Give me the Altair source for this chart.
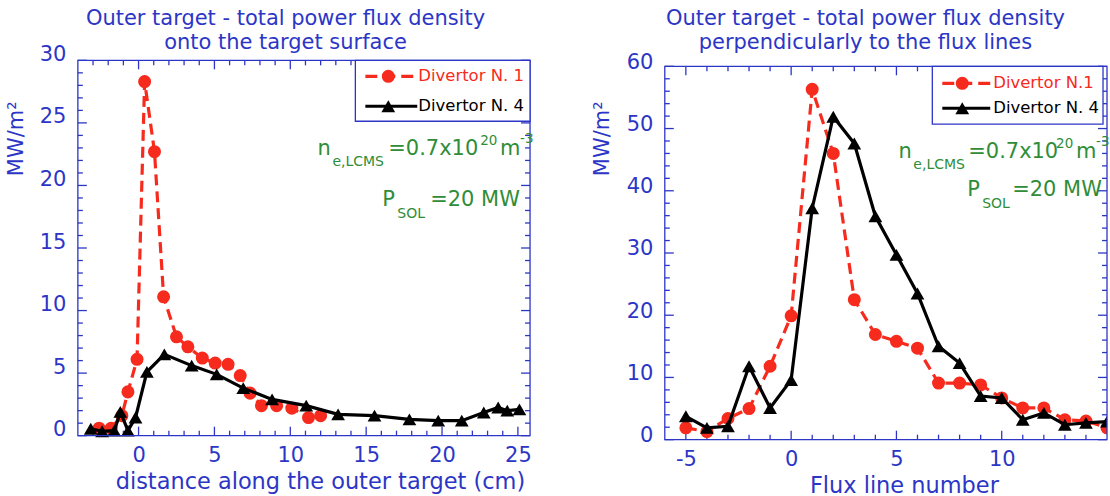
import altair as alt
import pandas as pd

# Outer target, total power flux density onto the target surface (MW/m^2)
surf_dist_n1 = [-2.6, -1.8, -1.1, -0.7, -0.1, 0.4, 1.05, 1.65, 2.5, 3.25,
                4.2, 5.05, 5.9, 6.7, 7.35, 8.1, 9.1, 10.1, 11.2, 12.0]
surf_flux_n1 = [0.6, 0.6, 1.6, 3.5, 6.1, 28.3, 22.7, 11.1, 7.9, 7.1,
                6.2, 5.8, 5.7, 4.8, 3.4, 2.4, 2.4, 2.2, 1.45, 1.6]
surf_dist_n4 = [-3.15, -2.4, -1.6, -1.2, -0.7, -0.2, 0.55, 1.7, 3.5, 5.15,
                6.9, 8.8, 11.05, 13.15, 15.55, 17.85, 19.75, 21.3, 22.75, 23.7,
                24.3, 25.1]
surf_flux_n4 = [0.55, 0.35, 0.4, 1.9, 0.4, 1.45, 5.1, 6.5, 5.6, 4.9,
                3.8, 2.9, 2.4, 1.7, 1.6, 1.3, 1.2, 1.2, 1.85, 2.25,
                2.0, 2.1]

# Outer target, total power flux density perpendicular to the flux lines (MW/m^2)
flux_line = list(range(-5, 16))
perp_flux_n1 = [1.9, 1.3, 3.4, 5.0, 11.8, 19.9, 56.3, 46.0, 22.5, 16.9, 15.8,
                14.7, 9.1, 9.1, 8.8, 6.7, 5.1, 5.1, 3.2, 3.0, 1.9]
perp_flux_n4 = [3.75, 1.9, 2.15, 11.8, 5.1, 9.6, 37.2, 51.9, 47.6, 35.9, 29.7,
                23.5, 15.0, 12.3, 7.0, 6.7, 3.2, 4.3, 2.4, 2.7, 2.9]

# Axis tick values
surf_x_major = [0, 5, 10, 15, 20, 25]
surf_x_minor = [v for v in range(-3, 26) if v % 5 != 0]
surf_y_major = [0, 5, 10, 15, 20, 25, 30]
surf_y_minor = [v for v in range(1, 30) if v % 5 != 0]
perp_x_major = [-5, 0, 5, 10]
perp_x_minor = [v for v in range(-5, 15) if v % 5 != 0]
perp_y_major = [0, 10, 20, 30, 40, 50, 60]
perp_y_minor = [v for v in range(2, 60, 2) if v % 10 != 0]

BLUE = "#2c36c6"
RED = "#f72b1d"
BLACK = "#000000"
GREEN = "#2f8d38"
FONT = "DejaVu Sans"
ONE = pd.DataFrame({"b": [0]})


def x_axis(values):
    return alt.Axis(values=values, ticks=False, domain=False, grid=False,
                    labelFont=FONT, labelFontSize=21, labelColor=BLUE,
                    labelPadding=9, labelFlush=False, title=None,
                    labelExpr="'' + datum.value")


def y_axis(values, offset):
    return alt.Axis(values=values, ticks=False, domain=False, grid=False,
                    labelFont=FONT, labelFontSize=21, labelColor=BLUE,
                    labelPadding=12, labelFlush=False, title=None,
                    labelBaseline="alphabetic", labelOffset=offset,
                    labelExpr="'' + datum.value")


def series(xs, ys, sc, color, shape, size, dash, clip):
    df = pd.DataFrame({"x": xs, "y": ys})
    xenc = alt.X("x:Q", scale=sc["xs"], axis=sc["xa"])
    yenc = alt.Y("y:Q", scale=sc["ys"], axis=sc["ya"])
    kw = dict(color=color, strokeWidth=3.2, clip=clip)
    if dash:
        kw["strokeDash"] = dash
    line = alt.Chart(df).mark_line(**kw).encode(x=xenc, y=yenc)
    pts = alt.Chart(df).mark_point(shape=shape, filled=True, size=size,
                                   color=color, opacity=1,
                                   clip=clip).encode(x=xenc, y=yenc)
    return [line, pts]


def ticks(values, channel, sc, W, top, bottom, length):
    df = pd.DataFrame({"v": values})
    base = alt.Chart(df).mark_rule(color=BLUE, strokeWidth=1.3)
    if channel == "x":
        enc = alt.X("v:Q", scale=sc["xs"], axis=sc["xa"])
        return [base.encode(x=enc, y=alt.value(bottom),
                            y2=alt.value(bottom - length)),
                base.encode(x=enc, y=alt.value(top),
                            y2=alt.value(top + length))]
    enc = alt.Y("v:Q", scale=sc["ys"], axis=sc["ya"])
    return [base.encode(y=enc, x=alt.value(0), x2=alt.value(length)),
            base.encode(y=enc, x=alt.value(W), x2=alt.value(W - length))]


def frame(W, top, bottom):
    return alt.Chart(ONE).mark_rect(
        fill="white", fillOpacity=0, stroke=BLUE, strokeWidth=1.3).encode(
        x=alt.value(0), x2=alt.value(W), y=alt.value(top),
        y2=alt.value(bottom))


def text(s, x, y, size, color, align="left", baseline="alphabetic", angle=0):
    return alt.Chart(pd.DataFrame({"t": [s]})).mark_text(
        align=align, baseline=baseline, fontSize=size, color=color,
        font=FONT, angle=angle).encode(x=alt.value(x), y=alt.value(y),
                                       text="t:N")


def legend(x1, x2, y1, y2, row1, row2, lx1, lx2, mx, tx, label1, label2):
    box = alt.Chart(ONE).mark_rect(
        fill="white", stroke=BLUE, strokeWidth=1.3).encode(
        x=alt.value(x1), x2=alt.value(x2), y=alt.value(y1), y2=alt.value(y2))
    red_line = alt.Chart(ONE).mark_rule(color=RED, strokeWidth=3.2,
                                        strokeDash=[12, 6]).encode(
        x=alt.value(lx1), x2=alt.value(lx2), y=alt.value(row1))
    red_pt = alt.Chart(ONE).mark_point(shape="circle", filled=True, size=170,
                                       color=RED, opacity=1).encode(
        x=alt.value(mx), y=alt.value(row1))
    blk_line = alt.Chart(ONE).mark_rule(color=BLACK, strokeWidth=3.2).encode(
        x=alt.value(lx1), x2=alt.value(lx2), y=alt.value(row2))
    blk_pt = alt.Chart(ONE).mark_point(shape="triangle-up", filled=True,
                                       size=190, color=BLACK,
                                       opacity=1).encode(
        x=alt.value(mx), y=alt.value(row2))
    return [box, red_line, red_pt, blk_line, blk_pt,
            text(label1, tx, row1, 16.5, RED, baseline="middle"),
            text(label2, tx, row2, 16.5, BLACK, baseline="middle")]


def annotation(nx, nb, eqx, supx, mx, m3x, px, pb, solx, eq2x):
    return [
        text("n", nx, nb, 21, GREEN),
        text("e,LCMS", nx + 15, nb + 11, 14, GREEN),
        text("=0.7x10", eqx, nb, 21, GREEN),
        text("20", supx, nb - 10, 13.5, GREEN),
        text("m", mx, nb, 21, GREEN),
        text("-3", m3x, nb - 12, 13.5, GREEN),
        text("P", px, pb, 21, GREEN),
        text("SOL", solx, pb + 12, 14, GREEN),
        text("=20 MW", eq2x, pb, 21, GREEN),
    ]


# ---- left panel: flux onto the target surface ----
WL, HL, TL = 453, 376, 0
sc_l = {
    "xs": alt.Scale(domain=[-4, 25.8], nice=False, zero=False),
    "ys": alt.Scale(domain=[0, 30], nice=False, zero=False),
    "xa": x_axis(surf_x_major),
    "ya": y_axis(surf_y_major, 0),
}

left_layers = []
left_layers += ticks(surf_x_minor, "x", sc_l, WL, TL, HL, 5)
left_layers += ticks(surf_x_major, "x", sc_l, WL, TL, HL, 9)
left_layers += ticks(surf_y_minor, "y", sc_l, WL, TL, HL, 5)
left_layers += ticks(surf_y_major, "y", sc_l, WL, TL, HL, 9)
left_layers += series(surf_dist_n1, surf_flux_n1, sc_l, RED, "circle",
                      170, [11, 6], False)
left_layers += series(surf_dist_n4, surf_flux_n4, sc_l, BLACK,
                      "triangle-up", 190, None, False)
left_layers += [frame(WL, TL, HL)]
left_layers += legend(278, WL, 0, 61, 16, 46, 288, 340, 311, 341,
                      "Divertor N. 1", "Divertor N. 4")
left_layers += annotation(240, 95, 311, 403, 423, 443, 305, 146, 320, 353)
left_layers += [
    text("Outer target - total power flux density", 208, -35, 21, BLUE,
         align="center"),
    text("onto the target surface", 208, -11, 21, BLUE, align="center"),
    text("MW/m²", -61, 116, 21, BLUE, baseline="middle", angle=270),
    text("distance along the outer target (cm)", 243, HL + 53, 22.5, BLUE,
         align="center"),
]
left = alt.layer(*left_layers).properties(width=WL, height=HL)

# ---- right panel: flux perpendicular to the flux lines ----
# plot frame starts 6 px below the left one, so the y range is set explicitly
WR, HR, TR = 443, 380, 6
sc_r = {
    "xs": alt.Scale(domain=[-6, 15], nice=False, zero=False),
    "ys": alt.Scale(domain=[0, 60], nice=False, zero=False, range=[HR, TR]),
    "xa": x_axis(perp_x_major),
    "ya": y_axis(perp_y_major, 2),
}

right_layers = []
right_layers += ticks(perp_x_minor, "x", sc_r, WR, TR, HR, 5)
right_layers += ticks(perp_x_major, "x", sc_r, WR, TR, HR, 9)
right_layers += ticks(perp_y_minor, "y", sc_r, WR, TR, HR, 5)
right_layers += ticks(perp_y_major, "y", sc_r, WR, TR, HR, 9)
right_layers += series(flux_line, perp_flux_n1, sc_r, RED, "circle",
                       170, [11, 6], True)
right_layers += series(flux_line, perp_flux_n4, sc_r, BLACK,
                       "triangle-up", 190, None, True)
right_layers += [frame(WR, TR, HR)]
right_layers += legend(268, WR - 4, TR, TR + 58, TR + 17, TR + 42, 278, 326,
                       298, 329, "Divertor N.1", "Divertor N. 4")
right_layers += annotation(234, TR + 92, 304, 392, 412, 432, 303, TR + 130,
                           318, 348)
right_layers += [
    text("Outer target - total power flux density", 201, -35, 21, BLUE,
         align="center"),
    text("perpendicularly to the flux lines", 201, -11, 21, BLUE,
         align="center"),
    text("MW/m²", -62, TR + 110, 21, BLUE, baseline="middle", angle=270),
    text("Flux line number", 240, HR + 53, 22.5, BLUE, align="center"),
]
right = alt.layer(*right_layers).properties(width=WR, height=HR)

chart = alt.hconcat(left, right, spacing=58).properties(
    padding={"left": 6, "top": 8, "right": 0, "bottom": 0},
    background="white",
).configure_view(stroke=None)

chart.save("out.html", embed_options={"renderer": "svg", "actions": False})
